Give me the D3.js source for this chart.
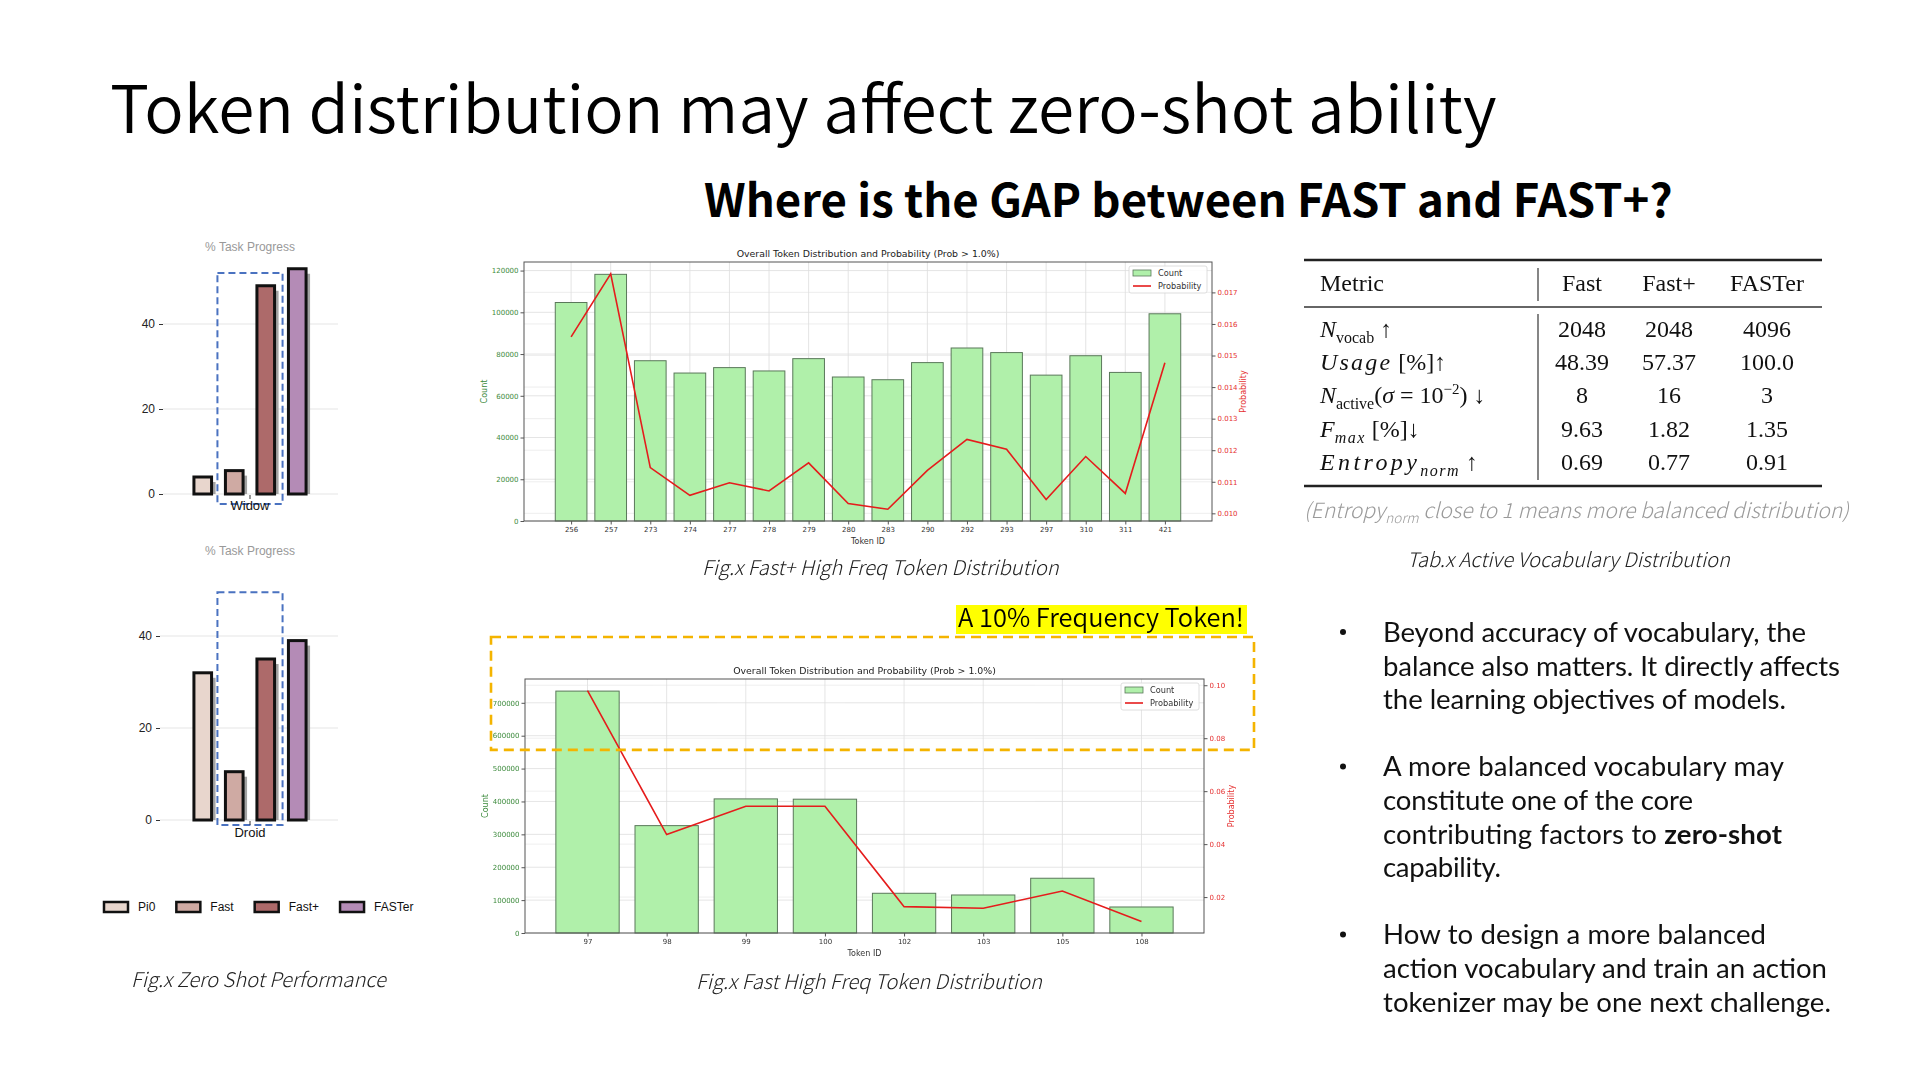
<!DOCTYPE html>
<html><head><meta charset="utf-8">
<script src="https://cdn.jsdelivr.net/npm/d3@7"></script>
<style>html,body{margin:0;padding:0;background:#fff}svg{display:block}</style>
</head><body>
<svg id="c" width="1920" height="1080"></svg>
<script>
// ---------------- DATA ----------------
const titleText = "Token distribution may affect zero-shot ability";
const subtitleText = "Where is the GAP between FAST and FAST+?";

const zsModels = ["Pi0", "Fast", "Fast+", "FASTer"];
const zsColors = ["#e8d6cd", "#cfaaa3", "#ad6a6a", "#b48bb6"];
const widowValues = [4, 5.5, 49, 53];
const droidValues = [32, 10.5, 35, 39];
const zsTicks = [0, 20, 40];

const fastPlusTokens = ["256","257","273","274","277","278","279","280","283","290","292","293","297","310","311","421"];
const fastPlusCounts = [104700,118200,76800,70900,73500,71900,77800,69000,67700,75900,82900,80700,69900,79200,71200,99300];
const fastPlusProbs  = [0.01559,0.01759,0.01145,0.01057,0.01097,0.01071,0.01160,0.01031,0.01013,0.01136,0.01234,0.01203,0.01044,0.01180,0.01063,0.01477];
const fastPlusCountTicks = [0,20000,40000,60000,80000,100000,120000];
const fastPlusProbTicks = [0.010,0.011,0.012,0.013,0.014,0.015,0.016,0.017];

const fastTokens = ["97","98","99","100","102","103","105","108"];
const fastCounts = [735600,326500,407800,406900,120800,115600,166500,79100];
const fastProbs  = [0.0980,0.0436,0.0543,0.0543,0.0164,0.0158,0.0223,0.0108];
const fastCountTicks = [0,100000,200000,300000,400000,500000,600000,700000];
const fastProbTicks = [0.02,0.04,0.06,0.08,0.10];
const highFreqThreshold = 557000;

const tableHeaders = ["Metric", "Fast", "Fast+", "FASTer"];
const tableLabels = [
  [["N","i"],["vocab","sub"],[" \u2191",""]],
  [["Usage","im"],[" [%]",""],["\u2191",""]],
  [["N","i"],["active","sub"],["(",""],["\u03c3","i"],[" = 10",""],["\u22122","sup"],[")",""],[" \u2193",""]],
  [["F","i"],["max","subm"],[" [%]",""],["\u2193",""]],
  [["Entropy","im"],["norm","subm"],[" \u2191",""]]
];
const tableValues = [
  ["2048","2048","4096"],
  ["48.39","57.37","100.0"],
  ["8","16","3"],
  ["9.63","1.82","1.35"],
  ["0.69","0.77","0.91"]
];

const bullets = [
  ["Beyond accuracy of vocabulary, the", "balance also matters. It directly affects", "the learning objectives of models."],
  ["A more balanced vocabulary may", "constitute one of the core", ["contributing factors to ", "zero-shot"], "capability."],
  ["How to design a more balanced", "action vocabulary and train an action", "tokenizer may be one next challenge."]
];

// ---------------- HELPERS ----------------
const svg = d3.select("#c");
const SANS = "'Noto Sans CJK SC','Noto Sans','Open Sans',sans-serif";
const BODY = "Lato,'Noto Sans',sans-serif";
const MPL = "'DejaVu Sans',sans-serif";
const ARIAL = "'Liberation Sans',Arial,sans-serif";
const SERIF = "'Liberation Serif','Times New Roman',serif";

function fitGroup(sels, widths, size) {
  let L = 0, W = 0;
  sels.forEach((s, i) => { s.attr("font-size", size); L += s.node().getComputedTextLength(); W += widths[i]; });
  const f = Math.max(0.88, Math.min(1.12, W / L));
  sels.forEach((s, i) => {
    s.attr("font-size", size * f);
    const l = s.node().getComputedTextLength();
    if (Math.abs(l - widths[i]) > 1.5) s.attr("textLength", widths[i]).attr("lengthAdjust", "spacing");
  });
}

// ---------------- TITLES ----------------
const title = svg.append("text").attr("x", 110).attr("y", 133)
  .attr("font-family", SANS).attr("font-weight", 350).attr("fill", "#000").text(titleText);
fitGroup([title], [1387], 70);

const subtitle = svg.append("text").attr("x", 704).attr("y", 217)
  .attr("font-family", SANS).attr("font-weight", 700).attr("fill", "#000").text(subtitleText);
fitGroup([subtitle], [969], 46);

// ---------------- ZERO-SHOT CHARTS ----------------
function zsChart(o) {
  const g = svg.append("g");
  const x = d3.scaleBand().domain(zsModels).range(o.xr).paddingInner(0.44).paddingOuter(0.22);
  const y = d3.scaleLinear().domain([0, o.yMax]).range(o.yr);
  const base = y(0), bw = x.bandwidth(), cx = d3.mean(o.xr);
  g.selectAll("line.gl").data(zsTicks).join("line").attr("class", "gl")
    .attr("x1", o.gx[0]).attr("x2", o.gx[1]).attr("y1", d => y(d)).attr("y2", d => y(d))
    .attr("stroke", "#e6e6e6").attr("stroke-width", 1.2);
  const ax = g.append("g").attr("transform", `translate(${o.gx[0]},0)`)
    .call(d3.axisLeft(y).tickValues(zsTicks).tickSize(4).tickPadding(4));
  ax.select(".domain").remove();
  ax.selectAll("line").attr("stroke", "#333").attr("stroke-width", 1);
  ax.selectAll("text").attr("font-family", ARIAL).attr("font-size", 12).attr("fill", "#222");
  g.append("text").attr("x", cx).attr("y", o.titleY).attr("text-anchor", "middle")
    .attr("font-family", ARIAL).attr("font-size", 12).attr("fill", "#999").text("% Task Progress");
  g.selectAll("rect.sh").data(o.values).join("rect").attr("class", "sh")
    .attr("x", (d, i) => x(zsModels[i]) + 4).attr("y", d => y(d) + 5)
    .attr("width", bw).attr("height", d => Math.max(0, base - y(d) - 5)).attr("fill", "#a3a3a3");
  g.selectAll("rect.bar").data(o.values).join("rect").attr("class", "bar")
    .attr("x", (d, i) => x(zsModels[i])).attr("y", d => y(d))
    .attr("width", bw).attr("height", d => base - y(d))
    .attr("fill", (d, i) => zsColors[i]).attr("stroke", "#111").attr("stroke-width", 3);
  g.append("rect").attr("x", x("Fast") - 8).attr("y", y(o.boxTop))
    .attr("width", x("Fast+") + bw + 8 - (x("Fast") - 8)).attr("height", base + o.boxPad - y(o.boxTop))
    .attr("fill", "none").attr("stroke", "#4a72c0").attr("stroke-width", 2).attr("stroke-dasharray", "7,4");
  g.append("line").attr("x1", cx).attr("x2", cx).attr("y1", base + 1).attr("y2", base + 5).attr("stroke", "#333");
  g.append("text").attr("x", cx).attr("y", base + o.labelDy).attr("text-anchor", "middle")
    .attr("font-family", ARIAL).attr("font-size", 13).attr("fill", "#111").text(o.label);
}
zsChart({ values: widowValues, label: "Widow", xr: [187, 313], yMax: 55, yr: [494, 260.25], gx: [163, 338], titleY: 251, boxTop: 52, boxPad: 10, labelDy: 16 });
zsChart({ values: droidValues, label: "Droid", xr: [187, 313], yMax: 45, yr: [820, 613], gx: [160, 338], titleY: 555, boxTop: 49.5, boxPad: 5, labelDy: 17 });

(function () {
  const g = svg.append("g");
  let x = 104; const yc = 907;
  zsModels.forEach((m, i) => {
    g.append("rect").attr("x", x).attr("y", yc - 5).attr("width", 24).attr("height", 10)
      .attr("fill", zsColors[i]).attr("stroke", "#111").attr("stroke-width", 2.5);
    const t = g.append("text").attr("x", x + 34).attr("y", yc + 4).attr("font-family", ARIAL)
      .attr("font-size", 12).attr("fill", "#111").text(m);
    x = x + 34 + t.node().getComputedTextLength() + 21;
  });
})();

// ---------------- TOKEN DISTRIBUTION CHARTS ----------------
function tokenChart(o) {
  const g = svg.append("g");
  const n = o.tokens.length;
  const pad = 0.05 * (n - 1 + 0.8);
  const x = d3.scaleLinear().domain([-0.4 - pad, n - 1 + 0.4 + pad]).range([o.x0, o.x1]);
  const yC = d3.scaleLinear().domain([0, d3.max(o.counts) * 1.05]).range([o.y1, o.y0]);
  const pMin = d3.min(o.probs), pMax = d3.max(o.probs), pr = pMax - pMin;
  const yP = d3.scaleLinear().domain([pMin - 0.05 * pr, pMax + 0.05 * pr]).range([o.y1, o.y0]);
  const grid = g.append("g").attr("stroke", "#d0d0d0").attr("stroke-width", 0.8).attr("opacity", 0.7);
  o.countTicks.forEach(t => grid.append("line").attr("x1", o.x0).attr("x2", o.x1).attr("y1", yC(t)).attr("y2", yC(t)));
  o.probTicks.forEach(t => grid.append("line").attr("x1", o.x0).attr("x2", o.x1).attr("y1", yP(t)).attr("y2", yP(t)).attr("opacity", 0.6));
  d3.range(n).forEach(i => grid.append("line").attr("x1", x(i)).attr("x2", x(i)).attr("y1", o.y0).attr("y2", o.y1));
  g.selectAll("rect.b").data(o.counts).join("rect").attr("class", "b")
    .attr("x", (d, i) => x(i - 0.4)).attr("width", (d, i) => x(i + 0.4) - x(i - 0.4))
    .attr("y", d => yC(d)).attr("height", d => yC(0) - yC(d))
    .attr("fill", "#b0f0aa").attr("stroke", "#5a785a").attr("stroke-width", 1);
  g.append("path").datum(o.probs)
    .attr("d", d3.line().x((d, i) => x(i)).y(d => yP(d)))
    .attr("fill", "none").attr("stroke", "#e51c1c").attr("stroke-width", 1.6);
  g.append("rect").attr("x", o.x0).attr("y", o.y0).attr("width", o.x1 - o.x0).attr("height", o.y1 - o.y0)
    .attr("fill", "none").attr("stroke", "#555").attr("stroke-width", 1);
  const styleAx = (ax, col) => {
    ax.select(".domain").remove();
    ax.selectAll("line").attr("stroke", "#555");
    ax.selectAll("text").attr("font-family", MPL).attr("font-size", 7).attr("fill", col);
  };
  styleAx(g.append("g").attr("transform", `translate(0,${o.y1})`)
    .call(d3.axisBottom(x).tickValues(d3.range(n)).tickFormat(i => o.tokens[i]).tickSize(3.5).tickPadding(3)), "#333");
  styleAx(g.append("g").attr("transform", `translate(${o.x0},0)`)
    .call(d3.axisLeft(yC).tickValues(o.countTicks).tickFormat(d3.format("d")).tickSize(3.5).tickPadding(2)), "#3c8a3c");
  styleAx(g.append("g").attr("transform", `translate(${o.x1},0)`)
    .call(d3.axisRight(yP).tickValues(o.probTicks).tickFormat(d3.format(o.probFmt)).tickSize(3.5).tickPadding(2)), "#e53030");
  const mx = (o.x0 + o.x1) / 2, my = (o.y0 + o.y1) / 2;
  g.append("text").attr("x", mx).attr("y", o.y0 - 5).attr("text-anchor", "middle")
    .attr("font-family", MPL).attr("font-size", 9.4).attr("fill", "#222")
    .text("Overall Token Distribution and Probability (Prob > 1.0%)");
  g.append("text").attr("x", mx).attr("y", o.y1 + 23).attr("text-anchor", "middle")
    .attr("font-family", MPL).attr("font-size", 8).attr("fill", "#333").text("Token ID");
  g.append("text").attr("transform", `translate(${o.x0 - 37},${my}) rotate(-90)`).attr("text-anchor", "middle")
    .attr("font-family", MPL).attr("font-size", 8).attr("fill", "#3c8a3c").text("Count");
  g.append("text").attr("transform", `translate(${o.x1 + o.rLab},${my}) rotate(-90)`).attr("text-anchor", "middle")
    .attr("font-family", MPL).attr("font-size", 8).attr("fill", "#e53030").text("Probability");
  const lx = o.x1 - 83, ly = o.y0 + 4;
  const lg = g.append("g");
  lg.append("rect").attr("x", lx).attr("y", ly).attr("width", 78).attr("height", 27).attr("rx", 2)
    .attr("fill", "#fff").attr("fill-opacity", 0.85).attr("stroke", "#d6d6d6").attr("stroke-width", 0.8);
  lg.append("rect").attr("x", lx + 4).attr("y", ly + 4).attr("width", 18).attr("height", 6)
    .attr("fill", "#b0f0aa").attr("stroke", "#5a785a").attr("stroke-width", 0.8);
  lg.append("line").attr("x1", lx + 4).attr("x2", lx + 22).attr("y1", ly + 20).attr("y2", ly + 20)
    .attr("stroke", "#e51c1c").attr("stroke-width", 1.6);
  lg.append("text").attr("x", lx + 29).attr("y", ly + 10).attr("font-family", MPL).attr("font-size", 8.2).attr("fill", "#333").text("Count");
  lg.append("text").attr("x", lx + 29).attr("y", ly + 23).attr("font-family", MPL).attr("font-size", 8.2).attr("fill", "#333").text("Probability");
  return { x, yC, yP };
}

tokenChart({ tokens: fastPlusTokens, counts: fastPlusCounts, probs: fastPlusProbs,
  countTicks: fastPlusCountTicks, probTicks: fastPlusProbTicks, probFmt: ".3f",
  x0: 524, x1: 1212, y0: 262, y1: 521, rLab: 34 });
const fastSc = tokenChart({ tokens: fastTokens, counts: fastCounts, probs: fastProbs,
  countTicks: fastCountTicks, probTicks: fastProbTicks, probFmt: ".2f",
  x0: 525, x1: 1204, y0: 679, y1: 933, rLab: 30 });

svg.append("rect").attr("x", 491).attr("y", 637).attr("width", 1254 - 491)
  .attr("height", fastSc.yC(highFreqThreshold) - 637)
  .attr("fill", "none").attr("stroke", "#f4b400").attr("stroke-width", 2.6).attr("stroke-dasharray", "10,6");
const hl = svg.append("text").attr("x", 958).attr("y", 627).attr("font-family", SANS).attr("font-weight", 350)
  .attr("fill", "#000").text("A 10% Frequency Token!");
fitGroup([hl], [286], 26);
svg.insert("rect", "text").attr("x", 956).attr("y", 605).attr("width", 291).attr("height", 29).attr("fill", "#ffff00");
hl.raise();

// ---------------- CAPTIONS ----------------
function caption(txt, x, y, w) {
  const t = svg.append("text").attr("x", x).attr("y", y).attr("font-family", SANS).attr("font-weight", 300)
    .attr("font-style", "italic").attr("fill", "#222").text(txt);
  fitGroup([t], [w], 21);
}
caption("Fig.x Zero Shot Performance", 131, 987, 255);
caption("Fig.x Fast+ High Freq Token Distribution", 702, 575, 357);
caption("Fig.x Fast High Freq Token Distribution", 696, 989, 346);
caption("Tab.x Active Vocabulary Distribution", 1407, 567, 323);

// ---------------- TABLE ----------------
(function () {
  const g = svg.append("g").attr("font-family", SERIF).attr("fill", "#111");
  const tL = 1304, tR = 1822, vx = 1538;
  const colX = [1582, 1669, 1767];
  const headY = 291, row0 = 337, rowH = 33.2;
  g.append("line").attr("x1", tL).attr("x2", tR).attr("y1", 260).attr("y2", 260).attr("stroke", "#222").attr("stroke-width", 2.6);
  g.append("line").attr("x1", tL).attr("x2", tR).attr("y1", 307).attr("y2", 307).attr("stroke", "#333").attr("stroke-width", 1.6);
  g.append("line").attr("x1", tL).attr("x2", tR).attr("y1", 486).attr("y2", 486).attr("stroke", "#222").attr("stroke-width", 2.6);
  g.append("line").attr("x1", vx).attr("x2", vx).attr("y1", 268).attr("y2", 301).attr("stroke", "#444").attr("stroke-width", 1.3);
  g.append("line").attr("x1", vx).attr("x2", vx).attr("y1", 314).attr("y2", 480).attr("stroke", "#444").attr("stroke-width", 1.3);
  g.append("text").attr("x", 1320).attr("y", headY).attr("font-size", 24).text(tableHeaders[0]);
  tableHeaders.slice(1).forEach((h, i) => g.append("text").attr("x", colX[i]).attr("y", headY)
    .attr("text-anchor", "middle").attr("font-size", 24).text(h));
  tableLabels.forEach((segs, r) => {
    const t = g.append("text").attr("x", 1320).attr("y", row0 + r * rowH).attr("font-size", 24);
    let off = 0;
    segs.forEach(([s, k]) => {
      const sp = t.append("tspan").text(s);
      let target = 0;
      if (k === "i" || k === "im") sp.attr("font-style", "italic");
      if (k === "im") sp.attr("letter-spacing", s === "Entropy" ? 3.4 : 2.2);
      if (k === "sub" || k === "subm") { sp.attr("font-size", 16); target = 6; }
      if (k === "subm") sp.attr("font-style", "italic").attr("letter-spacing", 1.5);
      if (k === "sup") { sp.attr("font-size", 15); target = -9; }
      sp.attr("dy", target - off); off = target;
    });
  });
  tableValues.forEach((row, r) => row.forEach((v, c) => g.append("text").attr("x", colX[c]).attr("y", row0 + r * rowH)
    .attr("text-anchor", "middle").attr("font-size", 24).text(v)));
  const note = svg.append("text").attr("x", 1304).attr("y", 518).attr("font-family", SANS).attr("font-weight", 300)
    .attr("font-style", "italic").attr("fill", "#9a9a9a");
  note.append("tspan").text("(Entropy");
  note.append("tspan").attr("font-size", "0.65em").attr("dy", 5).text("norm");
  note.append("tspan").attr("dy", -5).text(" close to 1 means more balanced distribution)");
  fitGroup([note], [545], 20);
})();

// ---------------- BULLETS ----------------
(function () {
  const g = svg.append("g").attr("font-family", BODY).attr("font-weight", 400).attr("fill", "#111");
  const lineH = 33.6, top = 642;
  let k = 0; const sels = []; const widths = [423, 457, 403, 401, 310, 399, 118, 383, 443, 448];
  bullets.forEach((lines) => {
    g.append("circle").attr("cx", 1343).attr("cy", top + k * lineH - 10).attr("r", 3).attr("fill", "#111");
    lines.forEach(line => {
      const t = g.append("text").attr("x", 1383).attr("y", top + k * lineH);
      if (Array.isArray(line)) {
        t.append("tspan").text(line[0]);
        t.append("tspan").attr("font-weight", 700).text(line[1]);
      } else t.text(line);
      sels.push(t); k++;
    });
    k++;
  });
  fitGroup(sels, widths, 26);
})();
</script>
</body></html>
